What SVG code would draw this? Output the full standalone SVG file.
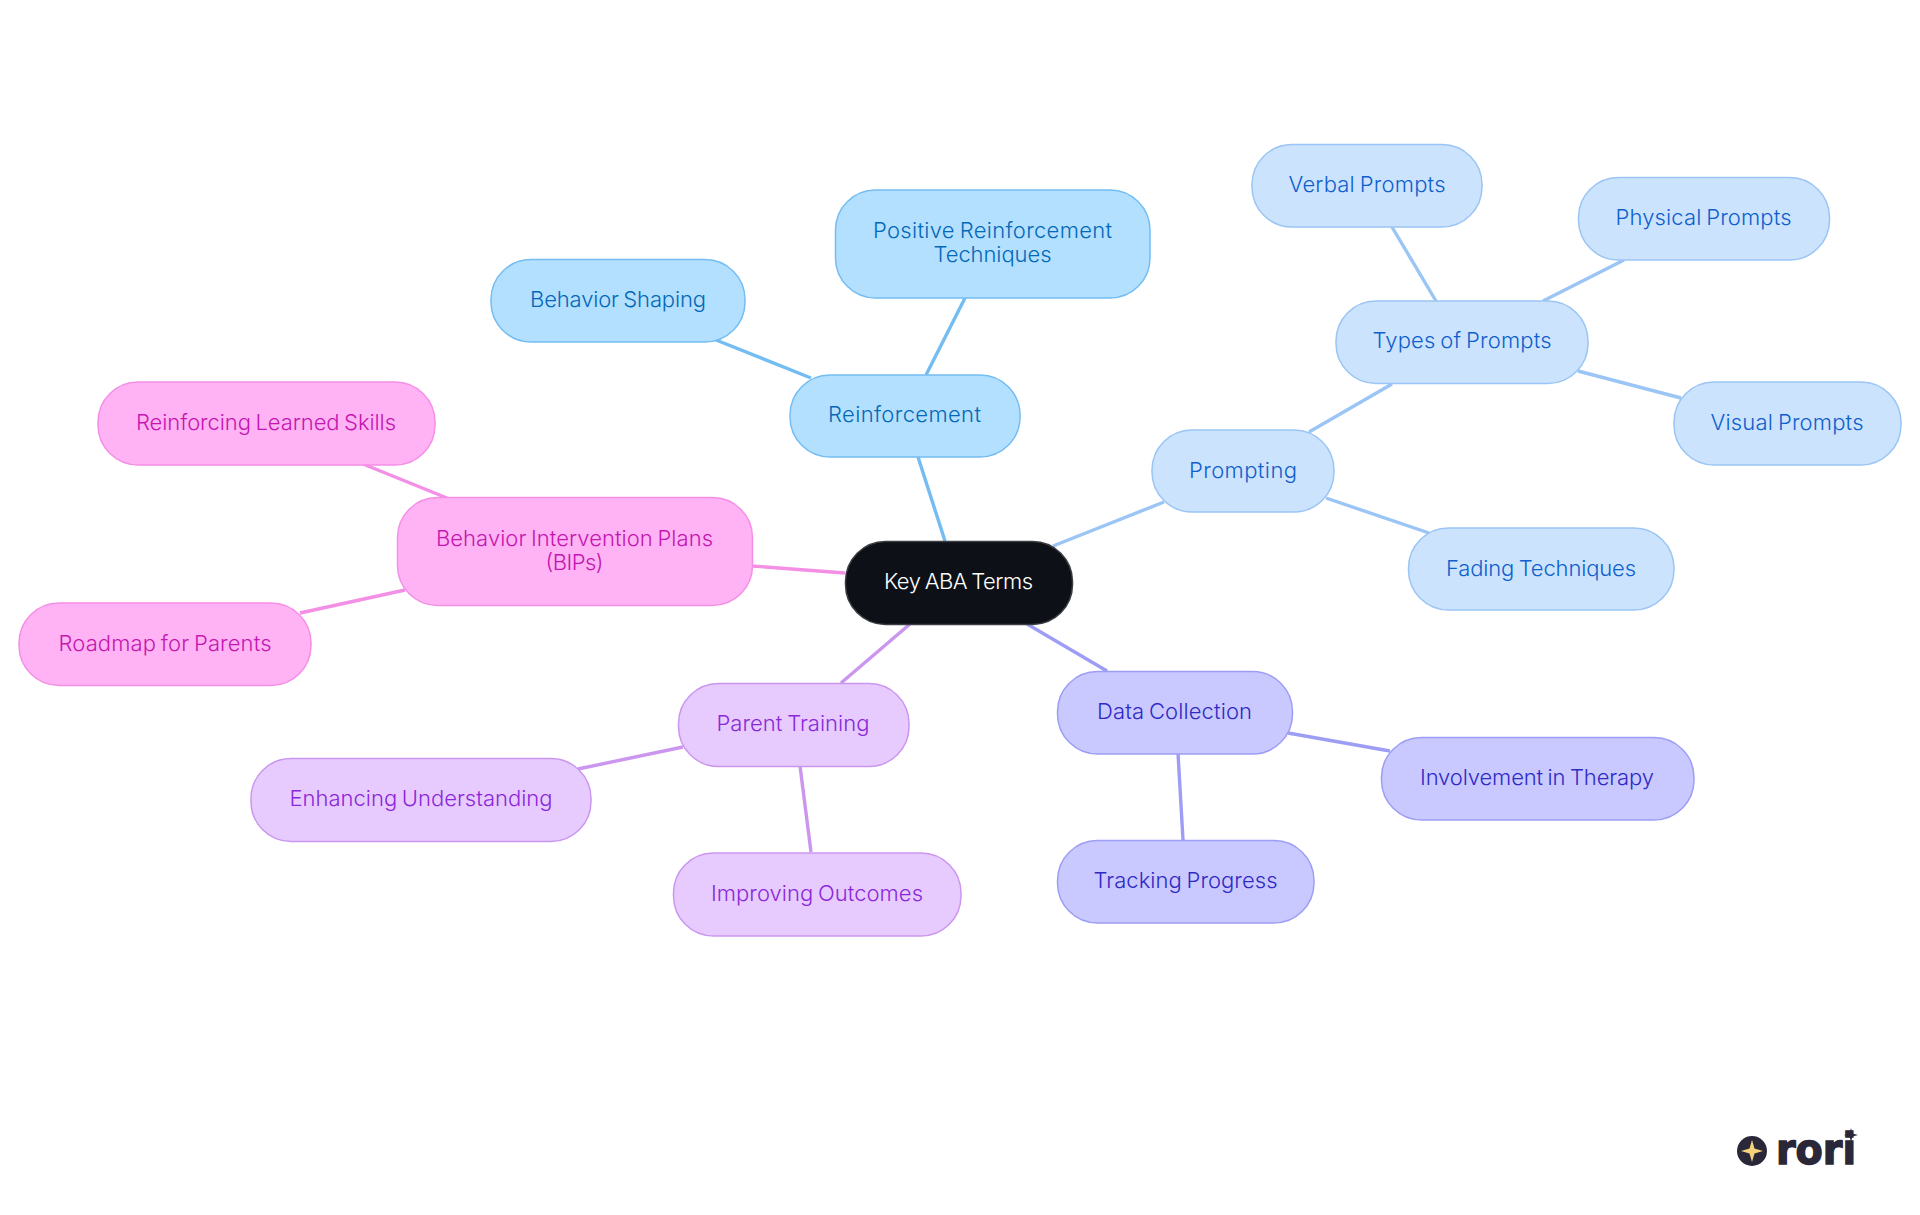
<svg xmlns="http://www.w3.org/2000/svg" width="1920" height="1215" viewBox="0 0 1920 1215">
<style>
text{font-family:"Inter","Noto Sans","Liberation Sans",sans-serif;font-size:22px;font-weight:340;word-spacing:-1.5px;text-anchor:middle;dominant-baseline:central}
.n{stroke-width:1.5}
.c{stroke-width:3.4;fill:none}
.root rect{fill:#0d1117;stroke:#3a3d42}.root text{fill:#ffffff}
.sky rect{fill:#b3e0ff;stroke:#74bdf2}.sky text{fill:#0468b8}
.blue rect{fill:#cce3fd;stroke:#9ac5f4}.blue text{fill:#0f5fcc}
.ind rect{fill:#c9c9ff;stroke:#9d9df5}.ind text{fill:#2f2ac4}
.pur rect{fill:#e7cbff;stroke:#cb96ef}.pur text{fill:#8a28d8}
.pink rect{fill:#ffb3f5;stroke:#f48fe6}.pink text{fill:#c416b0}
.lsky{stroke:#74bdf2}.lblue{stroke:#9ac5f4}.lind{stroke:#9d9df5}.lpur{stroke:#cb96ef}.lpink{stroke:#f48fe6}
</style>
<rect width="1920" height="1215" fill="#ffffff"/>
<g id="connectors">
<line class="c lsky" x1="945" y1="541" x2="918" y2="457"/>
<line class="c lsky" x1="926" y1="375" x2="965" y2="298"/>
<line class="c lsky" x1="811" y1="378" x2="716" y2="340"/>
<line class="c lblue" x1="1053" y1="546" x2="1164" y2="502"/>
<line class="c lblue" x1="1309" y1="432" x2="1392" y2="384"/>
<line class="c lblue" x1="1326" y1="498" x2="1429" y2="533"/>
<line class="c lblue" x1="1436" y1="301" x2="1392" y2="227"/>
<line class="c lblue" x1="1543" y1="301" x2="1624" y2="260"/>
<line class="c lblue" x1="1578" y1="371" x2="1681" y2="398"/>
<line class="c lind" x1="1027" y1="624" x2="1107" y2="671"/>
<line class="c lind" x1="1288" y1="733" x2="1390" y2="751"/>
<line class="c lind" x1="1178" y1="753" x2="1183" y2="840"/>
<line class="c lpur" x1="910" y1="624" x2="841" y2="683"/>
<line class="c lpur" x1="683" y1="747" x2="578" y2="769"/>
<line class="c lpur" x1="800" y1="766" x2="811" y2="852"/>
<line class="c lpink" x1="845" y1="573" x2="752" y2="566"/>
<line class="c lpink" x1="447" y1="498" x2="363" y2="464"/>
<line class="c lpink" x1="405" y1="590" x2="300" y2="613"/>
</g>
<g id="root" class="root"><rect class="n" x="845.500" y="541.500" width="227" height="83" rx="40"/><text x="958.500" y="581" textLength="149">Key ABA Terms</text></g>
<g id="reinforcement" class="sky"><rect class="n" x="790" y="375" width="230" height="82" rx="40"/><text x="904.500" y="414" textLength="153">Reinforcement</text></g>
<g id="positive" class="sky"><rect class="n" x="835.500" y="190" width="314.500" height="108" rx="40"/><text x="992.500" y="230" textLength="239">Positive Reinforcement</text><text x="992.500" y="254" textLength="118">Techniques</text></g>
<g id="shaping" class="sky"><rect class="n" x="491" y="259.500" width="254" height="82.500" rx="40"/><text x="618" y="299" textLength="176">Behavior Shaping</text></g>
<g id="prompting" class="blue"><rect class="n" x="1152" y="430" width="182" height="82" rx="40"/><text x="1243" y="470" textLength="108">Prompting</text></g>
<g id="types" class="blue"><rect class="n" x="1336" y="301" width="252" height="82.500" rx="40"/><text x="1462" y="340" textLength="179">Types of Prompts</text></g>
<g id="verbal" class="blue"><rect class="n" x="1252" y="144.500" width="230" height="82.500" rx="40"/><text x="1367" y="184" textLength="157">Verbal Prompts</text></g>
<g id="physical" class="blue"><rect class="n" x="1578.500" y="177.500" width="251" height="82.500" rx="40"/><text x="1703.500" y="217" textLength="176">Physical Prompts</text></g>
<g id="visual" class="blue"><rect class="n" x="1674" y="382" width="227" height="83" rx="40"/><text x="1787" y="422" textLength="153">Visual Prompts</text></g>
<g id="fading" class="blue"><rect class="n" x="1408.500" y="528" width="265.500" height="82" rx="40"/><text x="1541" y="568" textLength="190">Fading Techniques</text></g>
<g id="data" class="ind"><rect class="n" x="1057.500" y="671.500" width="235" height="82.500" rx="40"/><text x="1174.500" y="711" textLength="155">Data Collection</text></g>
<g id="involvement" class="ind"><rect class="n" x="1381.500" y="737.500" width="312.500" height="82.500" rx="40"/><text x="1537" y="777" textLength="234">Involvement in Therapy</text></g>
<g id="tracking" class="ind"><rect class="n" x="1057.500" y="840.500" width="256.500" height="82.500" rx="40"/><text x="1185.500" y="880" textLength="184">Tracking Progress</text></g>
<g id="parent" class="pur"><rect class="n" x="678.500" y="683.500" width="230.500" height="83" rx="40"/><text x="793" y="723" textLength="153">Parent Training</text></g>
<g id="enhancing" class="pur"><rect class="n" x="251" y="758.500" width="340" height="83" rx="40"/><text x="421" y="798" textLength="263">Enhancing Understanding</text></g>
<g id="improving" class="pur"><rect class="n" x="673.500" y="853" width="287.500" height="83" rx="40"/><text x="817" y="893" textLength="212">Improving Outcomes</text></g>
<g id="bips" class="pink"><rect class="n" x="397.500" y="497.500" width="355" height="108" rx="40"/><text x="574.500" y="538" textLength="277">Behavior Intervention Plans</text><text x="574.500" y="562" textLength="58">(BIPs)</text></g>
<g id="reinforcing" class="pink"><rect class="n" x="98" y="382" width="337" height="83" rx="40"/><text x="266" y="422" textLength="260">Reinforcing Learned Skills</text></g>
<g id="roadmap" class="pink"><rect class="n" x="19" y="603" width="292" height="82.500" rx="40"/><text x="165" y="643" textLength="213">Roadmap for Parents</text></g>
<g id="logo">
<circle cx="1752" cy="1151" r="15" fill="#2a2838"/>
<polygon points="1752,1140 1754.500,1148.500 1763,1151 1754.500,1153.500 1752,1162 1749.500,1153.500 1741,1151 1749.500,1148.500" fill="#f6d27a"/>
<text x="1816" y="1164" style="font-family:'DejaVu Sans',sans-serif;font-size:42px;font-weight:700;word-spacing:0;dominant-baseline:alphabetic;fill:#2a2838;stroke:#2a2838;stroke-width:1.5" textLength="80" lengthAdjust="spacingAndGlyphs">rori</text>
<polygon points="1851,1128 1852.500,1133.500 1858,1135 1852.500,1136.500 1851,1142 1849.500,1136.500 1844,1135 1849.500,1133.500" fill="#2a2838"/>
</g>
</svg>
